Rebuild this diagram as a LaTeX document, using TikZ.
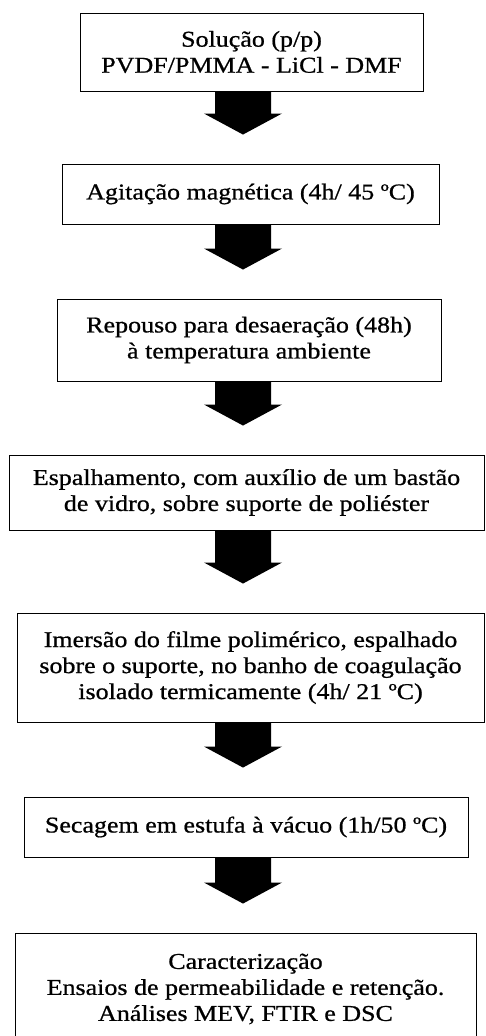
\documentclass[tikz,border=0pt]{standalone}
\usepackage{fontspec}
\setmainfont{Liberation Serif}[FakeStretch=1.15, FakeBold=0.8]
\usetikzlibrary{calc}

\tikzset{
  stepbox/.style={draw, line width=0.9pt, align=center, inner sep=0pt, font=\fontsize{22.6}{26}\selectfont},
}

\begin{document}
\begin{tikzpicture}[x=1pt, y=-1pt]
  \useasboundingbox (0,0) rectangle (485,1036);

  \node (n1) [stepbox, minimum width=343pt, minimum height=78pt] at (251.5,52) {Solução (p/p)\\PVDF/PMMA - LiCl - DMF};
  \node (n2) [stepbox, minimum width=377pt, minimum height=60pt] at (250.5,194) {Agitação magnética (4h/ 45 ºC)};
  \node (n3) [stepbox, minimum width=384pt, minimum height=82pt] at (249,340) {Repouso para desaeração (48h)\\à temperatura ambiente};
  \node (n4) [stepbox, minimum width=475pt, minimum height=75pt] at (246.5,492.5) {Espalhamento, com auxílio de um bastão\\de vidro, sobre suporte de poliéster};
  \node (n5) [stepbox, minimum width=467pt, minimum height=109pt] at (250.5,667.5) {Imersão do filme polimérico, espalhado\\sobre o suporte, no banho de coagulação\\isolado termicamente (4h/ 21 ºC)};
  \node (n6) [stepbox, minimum width=444pt, minimum height=60pt] at (246,827) {Secagem em estufa à vácuo (1h/50 ºC)};
  \node (n7) [stepbox, minimum width=461pt, minimum height=112pt] at (245.5,989) {Caracterização\\Ensaios de permeabilidade e retenção.\\Análises MEV, FTIR e DSC};

  % fat arrows between the steps
  \coordinate (axis) at (243,0);
  \foreach \a/\b in {n1/n2, n2/n3, n3/n4, n4/n5, n5/n6, n6/n7}
    \fill let \p1=(\a.south -| axis), \p2=($(\b.north -| axis)+(0,-29)$) in
      (\x1-28pt,\y1) -- (\x1+28pt,\y1) -- (\x1+28pt,\y2+21pt) -- (\x1+39pt,\y2+21pt)
      -- (\x2,\y2) -- (\x1-39pt,\y2+21pt) -- (\x1-28pt,\y2+21pt) -- cycle;
\end{tikzpicture}
\end{document}
